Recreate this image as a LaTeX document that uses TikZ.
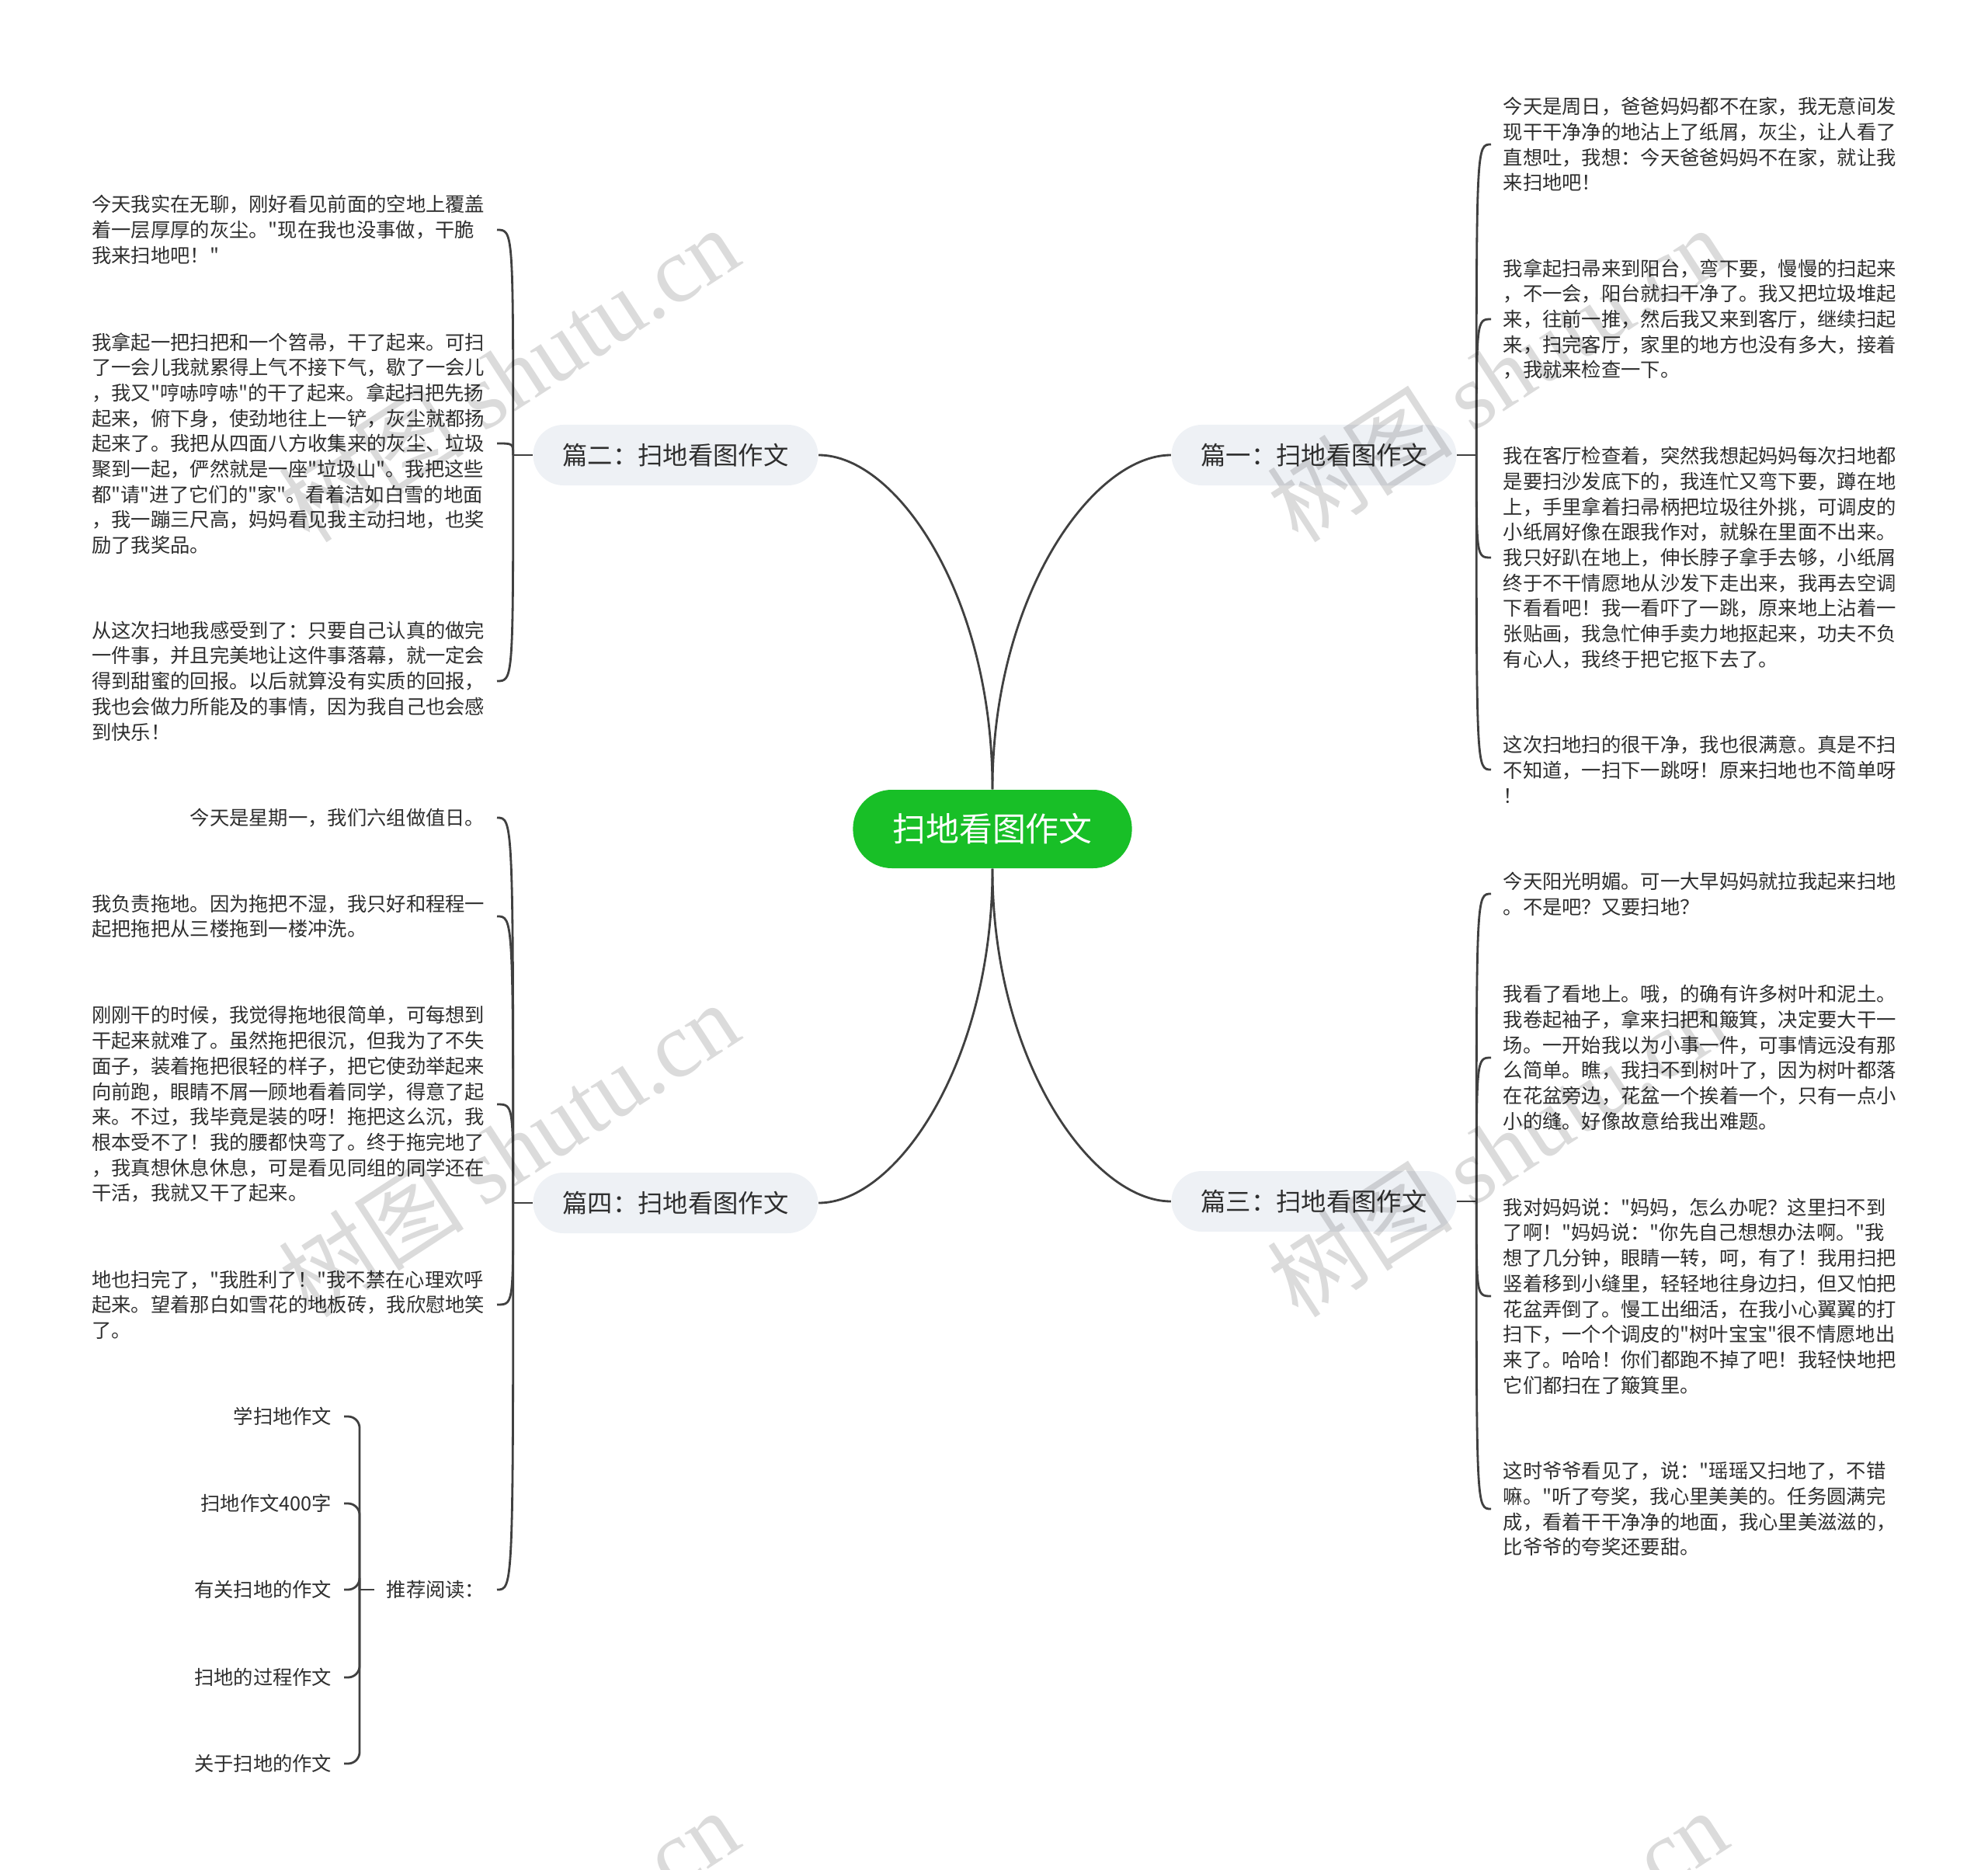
\documentclass[tikz,border=0pt]{standalone}
\usepackage{fontspec}
\setmainfont{Noto Sans CJK SC}[Ligatures=TeXOff]
\newfontfamily\wmfont{Liberation Serif}
\definecolor{MAPgreen}{HTML}{18BF27}
\definecolor{MAPpale}{HTML}{EEF1F5}
\definecolor{MAPline}{HTML}{404040}
\definecolor{MAPtext}{HTML}{2E2E2E}
\usetikzlibrary{calc}

\tikzset{
  rootbox/.style={fill=MAPgreen, text=white, rounded corners=0.5cm,
     minimum height=1.01cm, inner xsep=0.51cm, font=\fontsize{12.2pt}{14pt}\selectfont},
  topicbox/.style={fill=MAPpale, text=MAPtext, rounded corners=0.39cm,
     minimum height=0.78cm, inner xsep=0.38cm, font=\fontsize{9.2pt}{11pt}\selectfont},
  leaf/.style={text=MAPtext, align=left, inner xsep=0.15cm, inner ysep=0.05cm,
     font=\fontsize{7.2pt}{9.3pt}\selectfont},
  leafL/.style={leaf, anchor=east},
  leafR/.style={leaf, anchor=west},
  link/.style={MAPline, line width=0.8pt},
  wmark/.style={text=black, text opacity=0.14, rotate=33,
     font=\fontsize{34pt}{34pt}\selectfont}
}

\begin{document}
\begin{tikzpicture}[scale=1.0]
            \useasboundingbox (0,0) rectangle (25.6,-24.08);
            \clip (0,0) rectangle (25.6,-24.08);
            % Root and topics
            \node[rootbox] (root) at (12.78,-10.675) {扫地看图作文};
            \node[topicbox] (b1) at (16.92,-5.86) {篇一：扫地看图作文};
            \node[topicbox] (b2) at (8.70,-5.86) {篇二：扫地看图作文};
            \node[topicbox] (b3) at (16.92,-15.47) {篇三：扫地看图作文};
            \node[topicbox] (b4) at (8.70,-15.49) {篇四：扫地看图作文};
            \draw[link] (root.north) .. controls +(0,2.5) and +(1.0,0) .. (b2.east);
            \draw[link] (root.north) .. controls +(0,2.5) and +(-1.0,0) .. (b1.west);
            \draw[link] (root.south) .. controls +(0,-2.5) and +(1.0,0) .. (b4.east);
            \draw[link] (root.south) .. controls +(0,-2.5) and +(-1.0,0) .. (b3.west);
            % Topic 1 (right)
            \node[leafR] (r1) at (19.20,-1.86) {今天是周日，爸爸妈妈都不在家，我无意间发\\现干干净净的地沾上了纸屑，灰尘，让人看了\\直想吐，我想：今天爸爸妈妈不在家，就让我\\来扫地吧！};
            \node[leafR] (r2) at (19.20,-4.11) {我拿起扫帚来到阳台，弯下要，慢慢的扫起来\\，不一会，阳台就扫干净了。我又把垃圾堆起\\来，往前一推，然后我又来到客厅，继续扫起\\来，扫完客厅，家里的地方也没有多大，接着\\，我就来检查一下。};
            \node[leafR] (r3) at (19.20,-7.18) {我在客厅检查着，突然我想起妈妈每次扫地都\\是要扫沙发底下的，我连忙又弯下要，蹲在地\\上，手里拿着扫帚柄把垃圾往外挑，可调皮的\\小纸屑好像在跟我作对，就躲在里面不出来。\\我只好趴在地上，伸长脖子拿手去够，小纸屑\\终于不干情愿地从沙发下走出来，我再去空调\\下看看吧！我一看吓了一跳，原来地上沾着一\\张贴画，我急忙伸手卖力地抠起来，功夫不负\\有心人，我终于把它抠下去了。};
            \node[leafR] (r4) at (19.20,-9.91) {这次扫地扫的很干净，我也很满意。真是不扫\\不知道，一扫下一跳呀！原来扫地也不简单呀\\！};
            \coordinate (j1) at ($(b1.east)+(0.25,0)$);
            \draw[link] (b1.east) -- (j1);
            \foreach \leaf in {r1,r2,r3,r4}
               \draw[link] (j1) .. controls (j1 |- \leaf.west) .. (\leaf.west);
            % Topic 2 (left)
            \node[leafL] (l1) at (6.40,-2.96) {今天我实在无聊，刚好看见前面的空地上覆盖\\着一层厚厚的灰尘。"现在我也没事做，干脆\\我来扫地吧！"};
            \node[leafL] (l2) at (6.40,-5.71) {我拿起一把扫把和一个笤帚，干了起来。可扫\\了一会儿我就累得上气不接下气，歇了一会儿\\，我又"哼哧哼哧"的干了起来。拿起扫把先扬\\起来，俯下身，使劲地往上一铲，灰尘就都扬\\起来了。我把从四面八方收集来的灰尘、垃圾\\聚到一起，俨然就是一座"垃圾山"。我把这些\\都"请"进了它们的"家"。看着洁如白雪的地面\\，我一蹦三尺高，妈妈看见我主动扫地，也奖\\励了我奖品。};
            \node[leafL] (l3) at (6.40,-8.77) {从这次扫地我感受到了：只要自己认真的做完\\一件事，并且完美地让这件事落幕，就一定会\\得到甜蜜的回报。以后就算没有实质的回报，\\我也会做力所能及的事情，因为我自己也会感\\到快乐！};
            \coordinate (j2) at ($(b2.west)+(-0.25,0)$);
            \draw[link] (b2.west) -- (j2);
            \foreach \leaf in {l1,l2,l3}
               \draw[link] (j2) .. controls (j2 |- \leaf.east) .. (\leaf.east);
            % Topic 3 (right)
            \node[leafR] (r5) at (19.20,-11.51) {今天阳光明媚。可一大早妈妈就拉我起来扫地\\。不是吧？又要扫地？};
            \node[leafR] (r6) at (19.20,-13.62) {我看了看地上。哦，的确有许多树叶和泥土。\\我卷起袖子，拿来扫把和簸箕，决定要大干一\\场。一开始我以为小事一件，可事情远没有那\\么简单。瞧，我扫不到树叶了，因为树叶都落\\在花盆旁边，花盆一个挨着一个，只有一点小\\小的缝。好像故意给我出难题。};
            \node[leafR] (r7) at (19.20,-16.69) {我对妈妈说："妈妈，怎么办呢？这里扫不到\\了啊！"妈妈说："你先自己想想办法啊。"我\\想了几分钟，眼睛一转，呵，有了！我用扫把\\竖着移到小缝里，轻轻地往身边扫，但又怕把\\花盆弄倒了。慢工出细活，在我小心翼翼的打\\扫下，一个个调皮的"树叶宝宝"很不情愿地出\\来了。哈哈！你们都跑不掉了吧！我轻快地把\\它们都扫在了簸箕里。};
            \node[leafR] (r8) at (19.20,-19.43) {这时爷爷看见了，说："瑶瑶又扫地了，不错\\嘛。"听了夸奖，我心里美美的。任务圆满完\\成，看着干干净净的地面，我心里美滋滋的，\\比爷爷的夸奖还要甜。};
            \coordinate (j3) at ($(b3.east)+(0.25,0)$);
            \draw[link] (b3.east) -- (j3);
            \foreach \leaf in {r5,r6,r7,r8}
               \draw[link] (j3) .. controls (j3 |- \leaf.west) .. (\leaf.west);
            % Topic 4 (left)
            \node[leafL] (l4) at (6.40,-10.53) {今天是星期一，我们六组做值日。};
            \node[leafL] (l5) at (6.40,-11.80) {我负责拖地。因为拖把不湿，我只好和程程一\\起把拖把从三楼拖到一楼冲洗。};
            \node[leafL] (l6) at (6.40,-14.22) {刚刚干的时候，我觉得拖地很简单，可每想到\\干起来就难了。虽然拖把很沉，但我为了不失\\面子，装着拖把很轻的样子，把它使劲举起来\\向前跑，眼睛不屑一顾地看着同学，得意了起\\来。不过，我毕竟是装的呀！拖把这么沉，我\\根本受不了！我的腰都快弯了。终于拖完地了\\，我真想休息休息，可是看见同组的同学还在\\干活，我就又干了起来。};
            \node[leafL] (l7) at (6.40,-16.80) {地也扫完了，"我胜利了！"我不禁在心理欢呼\\起来。望着那白如雪花的地板砖，我欣慰地笑\\了。};
            \node[leafL] (rec) at (6.40,-20.47) {推荐阅读：};
            \coordinate (j4) at ($(b4.west)+(-0.25,0)$);
            \draw[link] (b4.west) -- (j4);
            \foreach \leaf in {l4,l5,l6,l7,rec}
               \draw[link] (j4) .. controls (j4 |- \leaf.east) .. (\leaf.east);
            % Further reading
            \node[leafL] (f1) at (4.43,-18.24) {学扫地作文};
            \node[leafL] (f2) at (4.43,-19.36) {扫地作文400字};
            \node[leafL] (f3) at (4.43,-20.47) {有关扫地的作文};
            \node[leafL] (f4) at (4.43,-21.60) {扫地的过程作文};
            \node[leafL] (f5) at (4.43,-22.71) {关于扫地的作文};
            \coordinate (j5) at ($(rec.west)+(-0.19,0)$);
            \draw[link] (rec.west) -- (j5);
            \foreach \leaf in {f1,f2,f3,f4,f5}
               \draw[link, rounded corners=0.15cm] (j5) |- (\leaf.east);
            % Watermarks
            \foreach \wx in {6.55,19.28}
               \foreach \wy in {-4.82,-14.80,-25.20}
                  \node[wmark] at (\wx,\wy) {树图 {\wmfont shutu.cn}};
         \end{tikzpicture}
\end{document}
